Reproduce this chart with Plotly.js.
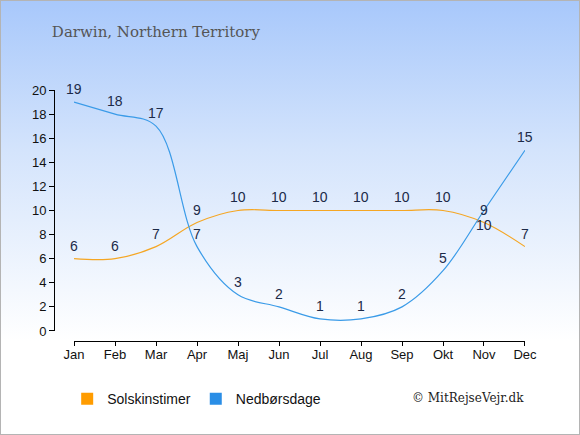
<!DOCTYPE html>
<html>
<head>
<meta charset="utf-8">
<script src="https://cdn.plot.ly/plotly-3.0.1.min.js"></script>
<style>
html,body{margin:0;padding:0;}
#wrap{width:578px;height:433px;border:1px solid #b4b4b4;background:linear-gradient(to bottom,#a8c8fb 0px,#d4e4fc 150px,#f4f8fe 290px,#ffffff 340px,#ffffff 433px);}
#chart{width:578px;height:433px;}
</style>
</head>
<body>
<div id="wrap"><div id="chart"></div></div>
<script>
const months = ["Jan","Feb","Mar","Apr","Maj","Jun","Jul","Aug","Sep","Okt","Nov","Dec"];
const sunHours = [6,6,7,9,10,10,10,10,10,10,9,7];
const rainDays = [19,18,17,7,3,2,1,1,2,5,10,15];
const rainLabelBelow = [false,false,false,false,false,false,false,false,false,false,true,false];
const yTicks = [0,2,4,6,8,10,12,14,16,18,20];

const labelFont = {family:"Liberation Sans, Arial, sans-serif", size:14, color:"#1c2a48"};
const traces = [
  {x:months, y:sunHours, mode:"lines", line:{color:"#f5a623", width:1.2, shape:"spline", smoothing:1}, showlegend:false, hoverinfo:"skip"},
  {x:months, y:rainDays, mode:"lines", line:{color:"#3a9be8", width:1.2, shape:"spline", smoothing:1}, showlegend:false, hoverinfo:"skip"},
  {type:"bar", x:[null], y:[null], name:"Solskinstimer", marker:{color:"#ff9c00"}, showlegend:true},
  {type:"bar", x:[null], y:[null], name:"Nedbørsdage", marker:{color:"#2a8ee6"}, showlegend:true}
];
const annotations = [];
months.forEach((m,i)=>{
  annotations.push({x:m, y:sunHours[i], xref:"x", yref:"y", text:String(sunHours[i]), showarrow:false, yshift:13, font:labelFont});
  annotations.push({x:m, y:rainDays[i], xref:"x", yref:"y", text:String(rainDays[i]), showarrow:false, yshift:rainLabelBelow[i]?-15:13, font:labelFont});
});
annotations.push({text:"© MitRejseVejr.dk", xref:"paper", yref:"paper", x:1.003, y:-0.227, xanchor:"right", yanchor:"middle",
    showarrow:false, font:{family:"DejaVu Serif, Georgia, serif", size:12, color:"#222"}});
const layout = {
  width:578, height:433,
  margin:{l:53, r:54, t:89, b:93},
  paper_bgcolor:"rgba(0,0,0,0)", plot_bgcolor:"rgba(0,0,0,0)",
  font:{family:"Liberation Sans, Arial, sans-serif", size:13, color:"#111"},
  title:{text:"Darwin, Northern Territory", x:0.088, xanchor:"left", y:0.93, yanchor:"middle",
    font:{family:"DejaVu Serif, Georgia, serif", size:15, color:"#555"}},
  xaxis:{type:"category", range:[0,11], domain:[0.0425,1], anchor:"free", position:0,
    showline:true, linecolor:"#000", linewidth:1, ticks:"outside", ticklen:4, tickcolor:"#000",
    ticklabelstandoff:-3,
    showgrid:false, zeroline:false, fixedrange:true, tickfont:{size:13,color:"#111"}},
  yaxis:{range:[0,20], domain:[0.04,1], anchor:"free", position:0, tickvals:yTicks,
    showline:true, linecolor:"#000", linewidth:1, ticks:"outside", ticklen:5, tickcolor:"#000",
    showgrid:false, zeroline:false, fixedrange:true, tickfont:{size:13,color:"#111"}},
  showlegend:true,
  legend:{orientation:"h", x:0.028, y:-0.232, xanchor:"left", yanchor:"middle", bgcolor:"rgba(0,0,0,0)",
    font:{size:14,color:"#111"}, itemwidth:30, traceorder:"normal"},
  annotations:annotations
};
Plotly.newPlot("chart", traces, layout, {displayModeBar:false, staticPlot:true});
</script>
</body>
</html>
